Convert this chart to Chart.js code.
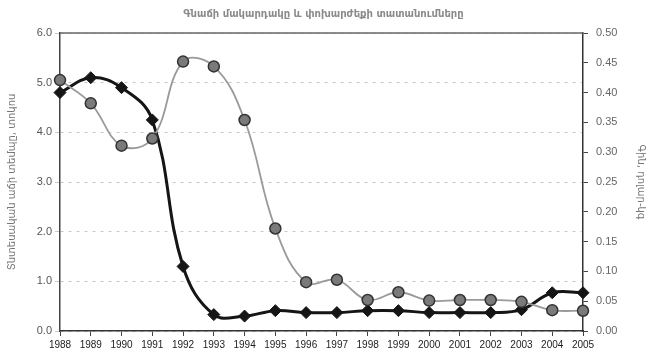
<!DOCTYPE html>
<html>
<head>
<meta charset="utf-8">
<script src="https://cdn.jsdelivr.net/npm/chart.js@4"></script>
<style>
  html, body { margin: 0; padding: 0; background: #fff; }
  #wrap { width: 647px; height: 363px; }
</style>
</head>
<body>
<div id="wrap"><canvas id="mainChart"></canvas></div>
<script>
const years = ['1988', '1989', '1990', '1991', '1992', '1993', '1994', '1995', '1996',
    '1997', '1998', '1999', '2000', '2001', '2002', '2003', '2004', '2005'];
// dark line, diamonds, left axis
const growthValues = [4.8, 5.1, 4.9, 4.25, 1.3, 0.33, 0.3, 0.41, 0.37,
    0.37, 0.41, 0.41, 0.37, 0.37, 0.37, 0.43, 0.77, 0.77];
// grey line, circles, right axis
const priceValues = [0.421, 0.382, 0.311, 0.323, 0.452, 0.444, 0.354, 0.172, 0.082,
    0.086, 0.052, 0.065, 0.051, 0.052, 0.052, 0.049, 0.035, 0.034];
const leftTicks = [0, 1, 2, 3, 4, 5, 6];

// top frame line of the plot
const frameTop = {
    id: 'frameTop',
    afterDraw(chart) {
        const a = chart.chartArea;
        const c = chart.ctx;
        c.save();
        c.strokeStyle = '#666';
        c.lineWidth = 1.5;
        c.beginPath();
        c.moveTo(a.left, a.top);
        c.lineTo(a.right, a.top);
        c.stroke();
        c.restore();
    }
};

const ctx = document.getElementById('mainChart').getContext('2d');
const mainChart = new Chart(ctx, {
    type: 'line',
    data: {
        labels: years,
        datasets: [
            {
                label: 'price',
                data: priceValues,
                yAxisID: 'yRight',
                borderColor: '#9a9a9a',
                borderWidth: 1.8,
                tension: 0.4,
                pointStyle: 'circle',
                pointRadius: 5.5,
                pointBackgroundColor: '#7a7a7a',
                pointBorderColor: '#333',
                pointBorderWidth: 1.5
            },
            {
                label: 'growth',
                data: growthValues,
                yAxisID: 'yLeft',
                borderColor: '#151515',
                borderWidth: 3,
                tension: 0.4,
                pointStyle: 'rectRot',
                pointRadius: 6,
                pointBackgroundColor: '#151515',
                pointBorderColor: '#151515',
                pointBorderWidth: 1
            }
        ]
    },
    options: {
        responsive: true,
        maintainAspectRatio: false,
        animation: false,
        layout: { padding: { top: 0, bottom: 0, left: 0, right: 0 } },
        plugins: {
            legend: { display: false },
            tooltip: { enabled: false },
            title: {
                display: true,
                text: 'Գնաճի մակարդակը և փոխարժեքի տատանումները',
                color: '#8a8a8a',
                font: { family: 'DejaVu Sans', size: 10 },
                padding: { top: 8, bottom: 13 }
            }
        },
        scales: {
            x: {
                offset: false,
                grid: { drawOnChartArea: false, tickLength: 5, color: '#444' },
                border: { color: '#333', width: 1.5 },
                ticks: {
                    color: '#222',
                    maxRotation: 0,
                    autoSkip: false,
                    padding: 3,
                    font: { family: 'Liberation Sans Narrow, Liberation Sans', size: 10 }
                },
                afterFit(scale) { scale.height = 32; }
            },
            yLeft: {
                position: 'left',
                min: 0,
                max: 6,
                afterBuildTicks(scale) { scale.ticks = leftTicks.map(v => ({ value: v })); },
                grid: { color: '#c8c8c8', tickLength: 5, lineWidth: 1 },
                border: { color: '#444', width: 1.5, dash: [3, 5] },
                ticks: {
                    color: '#555',
                    padding: 3,
                    font: { family: 'Liberation Sans', size: 11 },
                    callback: v => Number(v).toFixed(1)
                },
                title: {
                    display: true,
                    text: 'Տնտեսական աճի տեմպը, տոկոս',
                    color: '#777',
                    font: { family: 'DejaVu Sans', size: 10 },
                    padding: { top: 6, bottom: 0 }
                },
                afterFit(scale) { scale.width = 60; }
            },
            yRight: {
                position: 'right',
                min: 0,
                max: 0.5,
                grid: { drawOnChartArea: false, tickLength: 5, color: '#444' },
                border: { color: '#333', width: 1.5 },
                ticks: {
                    stepSize: 0.05,
                    color: '#666',
                    padding: 8,
                    font: { family: 'Liberation Sans', size: 11 },
                    callback: v => Number(v).toFixed(2)
                },
                title: {
                    display: true,
                    text: 'Գին, դոլար-կգ',
                    color: '#777',
                    font: { family: 'DejaVu Sans', size: 10 },
                    padding: 0
                },
                afterFit(scale) { scale.width = 64; }
            }
        }
    },
    plugins: [frameTop]
});
</script>
</body>
</html>
